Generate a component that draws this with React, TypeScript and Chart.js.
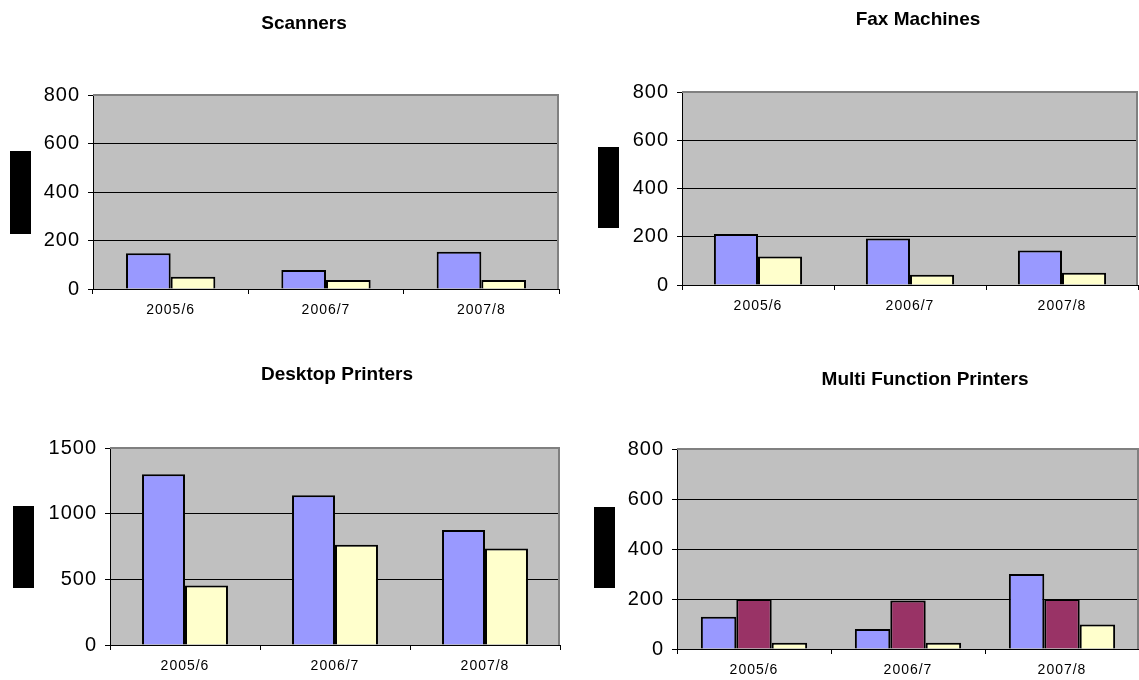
import React, { useEffect, useRef } from "react";
import { Chart, registerables } from "chart.js";

Chart.register(...registerables);

// Financial years shown on every panel
const periods = ["2005/6", "2006/7", "2007/8"];

// Scanners
const scannersFirst = [147, 78, 154];
const scannersSecond = [51, 37, 37];

// Fax machines
const faxFirst = [211, 193, 143];
const faxSecond = [118, 43, 51];

// Desktop printers
const desktopFirst = [1300, 1141, 875];
const desktopSecond = [453, 764, 734];

// Multi function printers
const mfpFirst = [129, 80, 300];
const mfpSecond = [200, 194, 200];
const mfpThird = [25, 25, 98];

// Value axis ranges
const smallAxis = { max: 800, step: 200 };
const largeAxis = { max: 1500, step: 500 };

const BLUE = "#9999FF";
const PLUM = "#993366";
const CREAM = "#FFFFCC";
const FONT = '"Liberation Sans", Arial, sans-serif';

type Panel = {
  title: string;
  left: number;
  top: number;
  width: number;
  height: number;
  axisWidth: number;
  padding: { left: number; right: number; top: number; bottom: number };
  titlePos: [number, number];
  box: [number, number, number, number];
  axis: { max: number; step: number };
  categoryPercentage: number;
  series: { data: number[]; color: string }[];
};

const panels: Panel[] = [
  {
    title: "Scanners",
    left: 0,
    top: 0,
    width: 575,
    height: 340,
    axisWidth: 93,
    padding: { left: 0, right: 16, top: 95, bottom: 21 },
    titlePos: [304, 24],
    box: [10, 151, 21, 83],
    axis: smallAxis,
    categoryPercentage: 0.575,
    series: [
      { data: scannersFirst, color: BLUE },
      { data: scannersSecond, color: CREAM },
    ],
  },
  {
    title: "Fax Machines",
    left: 575,
    top: 0,
    width: 564,
    height: 340,
    axisWidth: 107,
    padding: { left: 0, right: 1, top: 92, bottom: 25 },
    titlePos: [343, 20],
    box: [23, 147, 21, 81],
    axis: smallAxis,
    categoryPercentage: 0.58,
    series: [
      { data: faxFirst, color: BLUE },
      { data: faxSecond, color: CREAM },
    ],
  },
  {
    title: "Desktop Printers",
    left: 0,
    top: 340,
    width: 575,
    height: 340,
    axisWidth: 110,
    padding: { left: 0, right: 15, top: 108, bottom: 5 },
    titlePos: [337, 35],
    box: [13, 166, 21, 82],
    axis: largeAxis,
    categoryPercentage: 0.573,
    series: [
      { data: desktopFirst, color: BLUE },
      { data: desktopSecond, color: CREAM },
    ],
  },
  {
    title: "Multi Function Printers",
    left: 575,
    top: 340,
    width: 564,
    height: 340,
    axisWidth: 102,
    padding: { left: 0, right: 0, top: 109, bottom: 1 },
    titlePos: [350, 40],
    box: [19, 167, 21, 81],
    axis: smallAxis,
    categoryPercentage: 0.69,
    series: [
      { data: mfpFirst, color: BLUE },
      { data: mfpSecond, color: PLUM },
      { data: mfpThird, color: CREAM },
    ],
  },
];

// Grey plot background, grey top/right frame, the black side block and the title
const panelDecor = {
  id: "panelDecor",
  beforeDraw(chart: any) {
    const { ctx, chartArea: a } = chart;
    ctx.save();
    ctx.fillStyle = "#C0C0C0";
    ctx.fillRect(a.left, a.top, a.right - a.left, a.bottom - a.top);
    ctx.restore();
    // slightly open spacing for the axis numbers
    (ctx as any).letterSpacing = "1px";
  },
  afterDraw(chart: any, _args: any, opts: any) {
    const { ctx, chartArea: a } = chart;
    ctx.save();
    (ctx as any).letterSpacing = "0px";
    ctx.strokeStyle = "#808080";
    ctx.lineWidth = 2;
    ctx.beginPath();
    ctx.moveTo(a.left, a.top);
    ctx.lineTo(a.right - 1, a.top);
    ctx.lineTo(a.right - 1, a.bottom);
    ctx.stroke();

    const [bx, by, bw, bh] = opts.box;
    ctx.fillStyle = "#000";
    ctx.fillRect(bx, by, bw, bh);

    ctx.font = `bold 19px ${FONT}`;
    ctx.textAlign = "center";
    ctx.textBaseline = "middle";
    ctx.fillText(opts.title, opts.titlePos[0], opts.titlePos[1]);
    ctx.restore();
  },
};

function PanelChart({ panel }: { panel: Panel }) {
  const ref = useRef<HTMLCanvasElement | null>(null);

  useEffect(() => {
    if (!ref.current) return;
    const chart = new Chart(ref.current, {
      type: "bar",
      data: {
        labels: periods,
        datasets: panel.series.map((s) => ({
          data: s.data,
          backgroundColor: s.color,
          borderColor: "#000",
          borderWidth: 2,
          barPercentage: 1,
          categoryPercentage: panel.categoryPercentage,
        })),
      },
      options: {
        responsive: false,
        animation: false,
        layout: { padding: panel.padding },
        events: [],
        plugins: {
          legend: { display: false },
          tooltip: { enabled: false },
          title: { display: false },
          panelDecor: {
            title: panel.title,
            titlePos: panel.titlePos,
            box: panel.box,
          },
        } as any,
        scales: {
          x: {
            offset: true,
            grid: {
              display: true,
              offset: true,
              drawOnChartArea: false,
              drawTicks: true,
              tickLength: 5,
              color: "#000",
              tickColor: "#000",
            },
            border: { display: true, color: "#000", width: 1 },
            ticks: {
              color: "#000",
              font: { family: FONT, size: 14 },
              padding: 8,
              maxRotation: 0,
            },
            afterFit: (scale: any) => {
              scale.height = 30;
            },
          },
          y: {
            min: 0,
            max: panel.axis.max,
            grid: {
              color: (c: any) =>
                c.tick && c.tick.value === panel.axis.max ? "rgba(0,0,0,0)" : "#000",
              tickColor: "#000",
              tickLength: 5,
              lineWidth: 1,
            },
            border: { display: true, color: "#000", width: 1 },
            ticks: {
              stepSize: panel.axis.step,
              color: "#000",
              font: { family: FONT, size: 20 },
              padding: 8,
              callback: (v: any) => String(v),
            },
            afterFit: (scale: any) => {
              scale.width = panel.axisWidth;
            },
          },
        },
      },
      plugins: [panelDecor],
    });
    return () => chart.destroy();
  }, [panel]);

  return (
    <canvas
      ref={ref}
      width={panel.width}
      height={panel.height}
      style={{
        position: "absolute",
        left: panel.left,
        top: panel.top,
        width: panel.width,
        height: panel.height,
      }}
    />
  );
}

export default function App() {
  return (
    <div
      style={{
        position: "absolute",
        left: 0,
        top: 0,
        width: 1139,
        height: 680,
        background: "#fff",
        overflow: "hidden",
      }}
    >
      {panels.map((p) => (
        <PanelChart key={p.title} panel={p} />
      ))}
    </div>
  );
}
